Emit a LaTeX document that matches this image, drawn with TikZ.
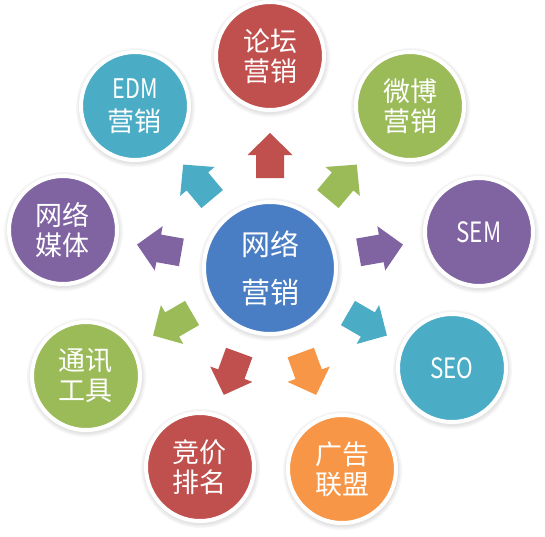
\documentclass[tikz,border=0pt]{standalone}
\usepackage{fontspec}
\newfontfamily\cjk{Noto Sans CJK SC}
\newfontfamily\cjknarrow{Noto Sans CJK SC}[FakeStretch=0.8]
\definecolor{obBlue}{HTML}{4A7EC4}
\definecolor{obRed}{HTML}{C0504D}
\definecolor{obGreen}{HTML}{9BBB59}
\definecolor{obPurple}{HTML}{8064A2}
\definecolor{obAqua}{HTML}{4BACC6}
\definecolor{obOrange}{HTML}{F79646}
\begin{document}
\begin{tikzpicture}[x=1pt,y=1pt,
  bubble/.style={circle, fill=#1, draw=white, line width=4pt, minimum size=108pt,
    inner sep=0pt, text=white, align=center, font=\fontsize{27}{30}\selectfont\cjk},
  hub/.style={bubble=#1, minimum size=132pt, font=\fontsize{29}{48}\selectfont\cjk},
  blockarrow/.style={fill=#1},
  softshadow/.style={fill=black, opacity=0.035}]
\useasboundingbox (-270,-268) rectangle (275,268);
\fill[white] (-270,-268) rectangle (275,268);

% shadows
\foreach \px/\py in {0/212,140/162,209/36,182/-100,72/-201,-70/-199,-184/-108,-207/38,-135/162}{
  \foreach \r in {56.5,58,59.5}{
    \fill[softshadow] (\px+0.5,\py-1.5) circle (\r);
  }
}
\foreach \r in {68.5,70,71.5}{
  \fill[softshadow] (0.5,-1.5) circle (\r);
}

% arrows
\foreach \a/\c in {90/obRed,50/obGreen,10/obPurple,-30/obAqua,-70/obOrange,-110/obRed,-150/obGreen,170/obPurple,130/obAqua}{
  \fill[blockarrow=\c, rotate=\a] (90,-14) -- (113,-14) -- (113,-22.5) -- (135,0) -- (113,22.5) -- (113,14) -- (90,14) -- cycle;
}

% circles
\node[hub=obBlue] (hub) at (0,0) {网络\\营销};
\node[bubble=obRed] (luntan) at (0,212) {论坛\\营销};
\node[bubble=obGreen] (weibo) at (140,162) {微博\\营销};
\node[bubble=obPurple, font=\fontsize{28}{30}\selectfont\cjknarrow] (sem) at (209,36) {SEM};
\node[bubble=obAqua, font=\fontsize{28}{30}\selectfont\cjknarrow] (seo) at (182,-100) {SEO};
\node[bubble=obOrange] (guanggao) at (72,-201) {广告\\联盟};
\node[bubble=obRed] (jingjia) at (-70,-199) {竞价\\排名};
\node[bubble=obGreen] (tongxun) at (-184,-108) {通讯\\工具};
\node[bubble=obPurple] (meiti) at (-207,38) {网络\\媒体};
\node[bubble=obAqua, font=\fontsize{27}{33}\selectfont\cjk] (edm) at (-135,162) {{\cjknarrow EDM}\\营销};
\end{tikzpicture}
\end{document}
